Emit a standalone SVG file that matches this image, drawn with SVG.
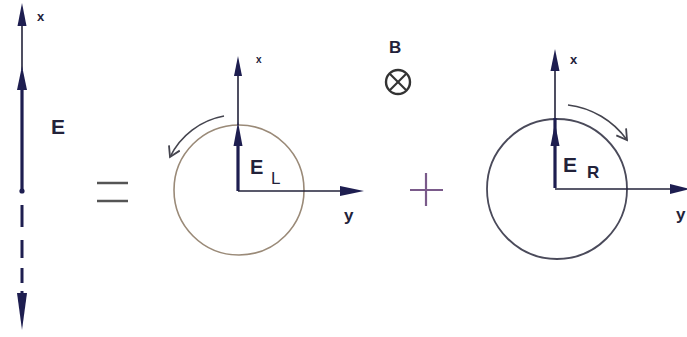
<svg xmlns="http://www.w3.org/2000/svg" width="687" height="337" viewBox="0 0 687 337">
<style>
.ax{stroke:#22223a;stroke-width:1.6;fill:none}
.thick{stroke:#1e1e50;stroke-width:3.2;fill:none}
.head{fill:#1e1e50}
.lbl{font-family:"Liberation Sans",Arial,sans-serif;font-weight:bold;fill:#22223a}
.circL{stroke:#9a8a78;stroke-width:1.6;fill:none}
.circR{stroke:#4a4a5a;stroke-width:1.8;fill:none}
.rot{stroke:#44444e;stroke-width:1.6;fill:none}
</style>
<defs>
<marker id="ah" markerWidth="10" markerHeight="10" refX="9" refY="5" orient="auto" markerUnits="userSpaceOnUse">
<path d="M0,1 L10,5 L0,9 Z" fill="#1e1e50"/>
</marker>
<marker id="oh" markerWidth="14" markerHeight="14" refX="12" refY="7" orient="auto" markerUnits="userSpaceOnUse">
<path d="M2,1 L12,7 L2,13" fill="none" stroke="#44444e" stroke-width="1.8"/>
</marker>
</defs>
<g id="left-field">
<line class="ax" x1="22" y1="70" x2="22" y2="22"/>
<path class="head" d="M22,3 L26.5,26 L17.5,26 Z"/>
<line class="thick" x1="22" y1="191" x2="22" y2="86"/>
<path class="head" d="M22,66 L27,90 L17,90 Z"/>
<circle cx="22" cy="191" r="2.6" fill="#1e1e50"/>
<line x1="22" y1="205" x2="22" y2="295" stroke="#1e1e50" stroke-width="3" stroke-dasharray="22,13,18,10,15,8"/>
<path class="head" d="M22,330 L17,293 L27,293 Z"/>
<text class="lbl" x="37" y="21" font-size="13">x</text>
<text class="lbl" x="51" y="134" font-size="21">E</text>
</g>
<g id="equals">
<line x1="97" y1="183" x2="128" y2="183" stroke="#555" stroke-width="2.5"/>
<line x1="97" y1="201" x2="128" y2="201" stroke="#555" stroke-width="2.5"/>
</g>
<g id="left-circle">
<circle class="circL" cx="239" cy="190" r="65"/>
<line class="ax" x1="238" y1="125" x2="238" y2="72"/>
<path class="head" d="M238,56 L242,76 L234,76 Z"/>
<line class="thick" x1="238" y1="191" x2="238" y2="140"/>
<path class="head" d="M238,122 L242.5,146 L233.5,146 Z"/>
<line class="ax" x1="238" y1="191" x2="345" y2="191"/>
<path class="head" d="M364,191 L340,186 L340,196 Z"/>
<path class="rot" d="M224,116 A75,75 0 0 0 170,157" marker-end="url(#oh)"/>
<text class="lbl" x="256" y="63" font-size="10">x</text>
<text class="lbl" x="250" y="174" font-size="20">E</text>
<text x="271" y="184" font-size="17" font-family="Liberation Sans,Arial,sans-serif" fill="#22223a">L</text>
<text class="lbl" x="344" y="221" font-size="17">y</text>
</g>
<g id="field-B">
<text class="lbl" x="389" y="53" font-size="17">B</text>
<circle cx="398" cy="82" r="12" fill="none" stroke="#333" stroke-width="2.4"/>
<line x1="390" y1="74" x2="406" y2="90" stroke="#333" stroke-width="2.2"/>
<line x1="406" y1="74" x2="390" y2="90" stroke="#333" stroke-width="2.2"/>
</g>
<g id="plus">
<line x1="410" y1="190" x2="443" y2="190" stroke="#7a5a8a" stroke-width="2.2"/>
<line x1="426" y1="173" x2="426" y2="206" stroke="#7a5a8a" stroke-width="2.2"/>
</g>
<g id="right-circle">
<circle class="circR" cx="557" cy="189" r="70"/>
<line class="ax" x1="555" y1="120" x2="555" y2="66"/>
<path class="head" d="M555,49 L559.5,71 L550.5,71 Z"/>
<line class="thick" x1="555" y1="188" x2="555" y2="118"/>
<path class="head" d="M555,123 L559.5,146 L550.5,146 Z"/>
<line class="ax" x1="555" y1="189" x2="672" y2="189"/>
<path class="head" d="M690,189 L670,184 L670,194 Z"/>
<path class="rot" d="M568,105 A85,85 0 0 1 627,140" marker-end="url(#oh)"/>
<text class="lbl" x="570" y="64" font-size="13">x</text>
<text class="lbl" x="563" y="172" font-size="21">E</text>
<text class="lbl" x="587" y="178" font-size="17">R</text>
<text class="lbl" x="676" y="220" font-size="17">y</text>
</g>
</svg>
